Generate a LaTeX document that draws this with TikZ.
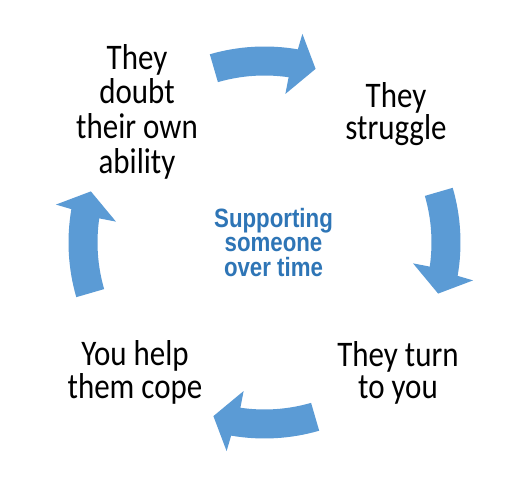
\documentclass[tikz,border=0pt]{standalone}
\usepackage{fontspec}
\newfontfamily\calfont[FakeStretch=0.86]{Carlito}
\newfontfamily\arfont[FakeStretch=0.84]{Liberation Sans}
\definecolor{arrowblue}{HTML}{5B9BD5}
\definecolor{textblue}{HTML}{2E75B6}
\newcommand{\cyclearrow}[1]{%
  \fill[arrowblue] (#1+16.2:196) arc[start angle=#1+16.2, end angle=#1-9.8, radius=196]
    -- (#1-10.3:212) -- (#1-16.4:181) -- (#1-8:150) -- (#1-8.3:167)
    arc[start angle=#1-8.3, end angle=#1+16.2, radius=167] -- cycle;}
\tikzset{
  steplabel/.style={font=\calfont\fontsize{36}{32.5}\selectfont, align=center, inner sep=0pt, anchor=base, text=black},
  centerlabel/.style={font=\arfont\bfseries\fontsize{26.5}{24.7}\selectfont, align=center, inner sep=0pt, anchor=base, text=textblue}
}
\begin{document}
\begin{tikzpicture}[x=1pt,y=1pt]
\useasboundingbox (0,0) rectangle (528,481);
\fill[white] (0,0) rectangle (528,481);
\begin{scope}[shift={(264.5,238.5)}]
  \cyclearrow{90}
  \cyclearrow{0}
  \cyclearrow{-90}
  \cyclearrow{180}
\end{scope}
\node[steplabel, font=\calfont\fontsize{36}{34.7}\selectfont] (doubt) at (137,307.7) {They\\doubt\\their own\\ability};
\node[steplabel] (struggle) at (396,341) {They\\struggle};
\node[steplabel] (turn) at (398,82) {They turn\\to you};
\node[steplabel] (cope) at (135,82.7) {You help\\them cope};
\node[centerlabel] (centre) at (273.5,204.3) {Supporting\\someone\\over time};
\end{tikzpicture}
\end{document}
